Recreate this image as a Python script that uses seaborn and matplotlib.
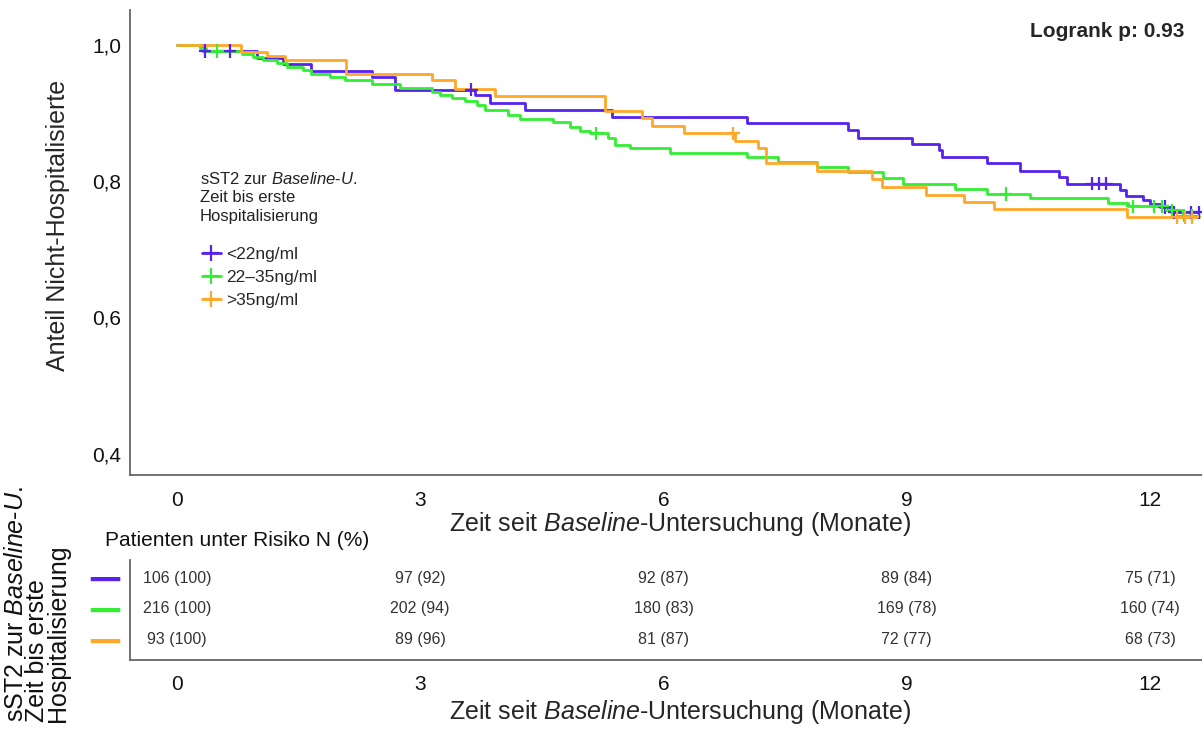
import numpy as np
import pandas as pd
import matplotlib
matplotlib.use("Agg")
import matplotlib.pyplot as plt
import seaborn as sns

# ----------------------------------------------------------
# data
# ----------------------------------------------------------
groups = ["<22ng/ml", "22\u201335ng/ml", ">35ng/ml"]
colors = ["#5522EE", "#33EE33", "#FFA726"]

blue_t = [0, 0.32, 0.99, 1.31, 1.66, 2.40, 2.69, 3.67, 3.86, 4.29, 5.36, 7.03, 8.27, 8.40,
          9.06, 9.40, 9.43, 9.99, 10.39, 10.88, 10.97, 11.63, 11.70, 11.91, 12.00, 12.12, 12.26, 12.60]
blue_s = [1.0, 0.991, 0.981, 0.972, 0.962, 0.953, 0.934, 0.926, 0.915, 0.904, 0.894, 0.885, 0.875, 0.864,
          0.855, 0.846, 0.835, 0.826, 0.815, 0.806, 0.796, 0.787, 0.778, 0.772, 0.766, 0.762, 0.754, 0.754]
blue_cens = [0.35, 0.65, 3.63, 11.28, 11.37, 11.46, 12.18, 12.30, 12.50, 12.60]

green_t = [0, 0.28, 0.36, 0.80, 0.94, 1.06, 1.23, 1.36, 1.55, 1.66, 1.89, 2.07, 2.40, 2.75, 3.14, 3.24,
           3.39, 3.55, 3.70, 3.80, 4.08, 4.23, 4.64, 4.85, 4.97, 5.09, 5.31, 5.40, 5.59, 6.08, 7.03,
           7.41, 7.89, 8.27, 8.71, 8.95, 9.59, 9.99, 10.52, 11.48, 11.73, 12.18, 12.40, 12.60]
green_s = [1.0, 0.995, 0.991, 0.986, 0.982, 0.978, 0.973, 0.968, 0.963, 0.958, 0.953, 0.949, 0.943, 0.937,
           0.931, 0.926, 0.922, 0.917, 0.912, 0.904, 0.897, 0.891, 0.887, 0.879, 0.874, 0.870, 0.863,
           0.853, 0.848, 0.842, 0.836, 0.828, 0.821, 0.814, 0.804, 0.796, 0.788, 0.781, 0.775, 0.768,
           0.763, 0.757, 0.749, 0.749]
green_cens = [0.50, 5.17, 10.22, 11.79, 12.05, 12.15, 12.27, 12.42, 12.52]

orange_t = [0, 0.79, 1.11, 1.33, 2.09, 3.14, 3.43, 3.92, 5.28, 5.74, 5.86, 6.25, 6.88, 7.16, 7.26,
            7.89, 8.57, 8.70, 9.24, 9.70, 10.07, 11.71, 12.60]
orange_s = [1.0, 0.989, 0.984, 0.978, 0.957, 0.948, 0.935, 0.925, 0.903, 0.892, 0.881, 0.870, 0.859,
            0.848, 0.826, 0.815, 0.803, 0.792, 0.780, 0.770, 0.759, 0.747, 0.747]
orange_cens = [6.86, 12.33, 12.43, 12.52]

risk_times = [0, 3, 6, 9, 12]
risk_blue = ["106 (100)", "97 (92)", "92 (87)", "89 (84)", "75 (71)"]
risk_green = ["216 (100)", "202 (94)", "180 (83)", "169 (78)", "160 (74)"]
risk_orange = ["93 (100)", "89 (96)", "81 (87)", "72 (77)", "68 (73)"]

legend_title = "sST2 zur $\\mathit{Baseline}$-$\\mathit{U.}$\nZeit bis erste\nHospitalisierung"

# ----------------------------------------------------------
# tables
# ----------------------------------------------------------
curves = [(blue_t, blue_s, blue_cens), (green_t, green_s, green_cens), (orange_t, orange_s, orange_cens)]
steps, cens = [], []
for g, (t, s, c) in zip(groups, curves):
    steps.append(pd.DataFrame({"t": t, "s": s, "group": g}))
    idx = np.searchsorted(t, c, side="right") - 1
    cens.append(pd.DataFrame({"t": c, "s": np.array(s)[idx], "group": g}))
df_steps = pd.concat(steps, ignore_index=True)
df_cens = pd.concat(cens, ignore_index=True)
pal = dict(zip(groups, colors))

# ----------------------------------------------------------
# style
# ----------------------------------------------------------
sns.set_theme(style="white")
plt.rcParams["font.family"] = ["Liberation Sans", "DejaVu Sans"]
plt.rcParams["mathtext.fontset"] = "custom"
plt.rcParams["mathtext.rm"] = "Liberation Sans"
plt.rcParams["mathtext.it"] = "Liberation Sans:italic"
spine_col = "#666666"
xlab = r"Zeit seit $\mathit{Baseline}$-Untersuchung (Monate)"

fig = plt.figure(figsize=(12.02, 7.29), dpi=100)
ax = fig.add_axes([0.108, 0.348, 0.892, 0.638])
ax_t = fig.add_axes([0.108, 0.0947, 0.892, 0.137])

# ----------------------------------------------------------
# survival curves
# ----------------------------------------------------------
sns.lineplot(data=df_steps, x="t", y="s", hue="group", palette=pal, estimator=None,
             drawstyle="steps-post", linewidth=2, ax=ax, legend=False)
sns.scatterplot(data=df_cens, x="t", y="s", hue="group", palette=pal, marker="+",
                s=90, linewidth=1.6, ax=ax, legend=False, zorder=3)

ax.set_xlim(-0.58, 12.64)
ax.set_ylim(0.368, 1.051)
ax.set_xticks(risk_times)
ax.set_yticks([0.4, 0.6, 0.8, 1.0])
ax.set_yticklabels(["0,4", "0,6", "0,8", "1,0"])
ax.tick_params(axis="both", length=4, width=1, color=spine_col, labelsize=15, labelcolor="#111111")
ax.tick_params(axis="x", pad=7)
ax.tick_params(axis="y", pad=2)
ax.set_xlabel(xlab, fontsize=18, labelpad=1)
ax.xaxis.set_label_coords(0.513, -0.075)
ax.set_ylabel("Anteil Nicht-Hospitalisierte", fontsize=18)
ax.yaxis.set_label_coords(-0.056, 0.538)
sns.despine(ax=ax)
for sp in ["left", "bottom"]:
    ax.spines[sp].set_color(spine_col)
    ax.spines[sp].set_linewidth(1.3)

ax.text(0.984, 0.955, "Logrank p: 0.93", transform=ax.transAxes, ha="right", va="center",
        fontsize=15, fontweight="bold")

# legend: title as a text block, entries below it
ax.text(0.0653, 0.655, legend_title, transform=ax.transAxes, ha="left", va="top",
        fontsize=12, linespacing=1.3, color="#222222")
handles = [plt.Line2D([], [], color=c, marker="+", markersize=11, markeredgewidth=1.6, linewidth=2)
           for c in colors]
ax.legend(handles, groups, loc="upper left", bbox_to_anchor=(0.059, 0.510), frameon=False,
          fontsize=12.5, handlelength=1.1, handletextpad=0.3, labelspacing=0.45, borderpad=0)

# ----------------------------------------------------------
# risk table
# ----------------------------------------------------------
rows = [risk_blue, risk_green, risk_orange]
for i, labels in enumerate(rows):
    for x, lab in zip(risk_times, labels):
        ax_t.text(x, i, lab, ha="center", va="center", fontsize=11.5, color="#333333")
ax_t.set_xlim(-0.58, 12.64)
ax_t.set_ylim(2.65, -0.58)
ax_t.set_xticks(risk_times)
ax_t.set_yticks([0, 1, 2])
ax_t.set_yticklabels(["\u2501\u2501"] * 3, fontsize=18, family="DejaVu Sans", fontweight="bold")
for lab, c in zip(ax_t.get_yticklabels(), colors):
    lab.set_color(c)
ax_t.tick_params(axis="y", length=0, pad=7)
ax_t.tick_params(axis="x", length=4, width=1, color=spine_col, labelsize=15, pad=7,
                 labelcolor="#111111")
ax_t.set_xlabel(xlab, fontsize=18, labelpad=1)
ax_t.xaxis.set_label_coords(0.513, -0.38)
sns.despine(ax=ax_t)
for sp in ["left", "bottom"]:
    ax_t.spines[sp].set_color(spine_col)
    ax_t.spines[sp].set_linewidth(1.3)

fig.text(105 / 1202, 1 - 541 / 729, "Patienten unter Risiko N (%)", fontsize=15, va="center",
         ha="left", color="#111111")
fig.text(37 / 1202, 1 - 722 / 729, legend_title,
         rotation=90, ha="center", va="bottom", multialignment="left", fontsize=18,
         linespacing=0.82, color="#111111")

fig.savefig("out.png", dpi=100)
